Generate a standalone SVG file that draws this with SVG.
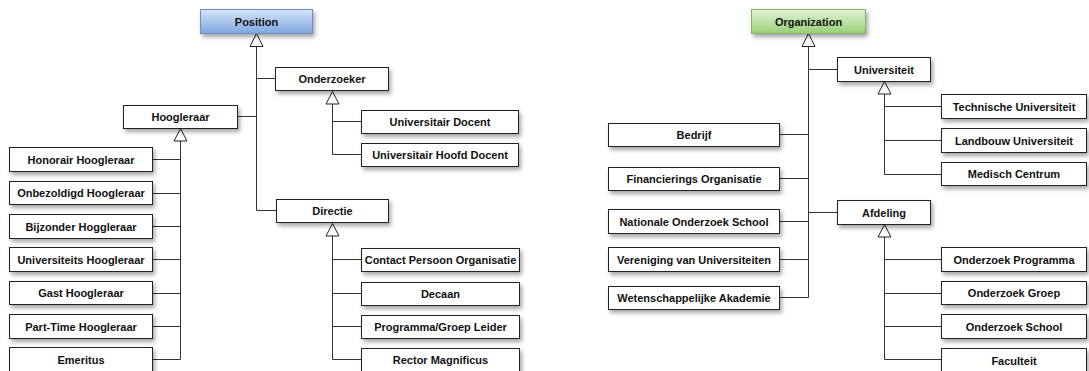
<svg xmlns="http://www.w3.org/2000/svg" width="1089" height="371" viewBox="0 0 1089 371">
<defs>
<filter id="sh" x="-10%" y="-30%" width="130%" height="180%">
<feDropShadow dx="2" dy="3" stdDeviation="2" flood-color="#000" flood-opacity="0.35"/>
</filter>
<linearGradient id="gBlue" x1="0" y1="0" x2="0" y2="1">
<stop offset="0" stop-color="#d6e4f8"/>
<stop offset="1" stop-color="#7ea6e0"/>
</linearGradient>
<linearGradient id="gGreen" x1="0" y1="0" x2="0" y2="1">
<stop offset="0" stop-color="#e2f3d8"/>
<stop offset="1" stop-color="#97d077"/>
</linearGradient>
</defs>
<style>
.b{fill:#fff;stroke:#222;stroke-width:1;filter:url(#sh)}
.t{font-family:"Liberation Sans",Arial,sans-serif;font-weight:bold;font-size:11px;fill:#111;text-anchor:middle}
.c{fill:none;stroke:#333;stroke-width:1}
.a{fill:#fff;stroke:#222;stroke-width:1}
</style>
<g id="connectors">
<path class="c" d="M256.5 46V210.5M256.5 78.5H275M238 116.5H256.5M256.5 210.5H276"/>
<path class="c" d="M180.5 141V359.5M153 159.5H180.5M153 193.5H180.5M153 226.5H180.5M153 259.5H180.5M153 293.5H180.5M153 326.5H180.5M153 359.5H180.5"/>
<path class="c" d="M332.5 104V154.5M332.5 121.5H361M332.5 154.5H361"/>
<path class="c" d="M332.5 236V359.5M332.5 259.5H361M332.5 293.5H361M332.5 326.5H361M332.5 359.5H361"/>
<path class="c" d="M808.5 46V297.5M808.5 69.5H837M808.5 212.5H837M780 134.5H808.5M780 178.5H808.5M780 221.5H808.5M780 259.5H808.5M780 297.5H808.5"/>
<path class="c" d="M884.5 94V174.5M884.5 106.5H941M884.5 140.5H941M884.5 174.5H941"/>
<path class="c" d="M884.5 237V359.5M884.5 259.5H941M884.5 293.5H941M884.5 326.5H941M884.5 359.5H941"/>
<path class="a" d="M256.5 33.5L250 46.5H263Z"/>
<path class="a" d="M180.5 128.5L174 141H187Z"/>
<path class="a" d="M332.5 91.5L326 104H339Z"/>
<path class="a" d="M332.5 223.5L326 236H339Z"/>
<path class="a" d="M808.5 33.5L802 46.5H815Z"/>
<path class="a" d="M884.5 81.5L878 94H891Z"/>
<path class="a" d="M884.5 224.5L878 237H891Z"/>
</g>
<g id="position"><rect x="200.5" y="9.5" width="112" height="24" fill="url(#gBlue)" stroke="#6c8ebf" filter="url(#sh)"/><text class="t" x="256.5" y="25.5">Position</text></g>
<g id="onderzoeker"><rect class="b" x="275.5" y="67.5" width="113" height="23"/><text class="t" x="332" y="83">Onderzoeker</text></g>
<g id="hoogleraar"><rect class="b" x="123.5" y="105.5" width="114" height="23"/><text class="t" x="180.5" y="121">Hoogleraar</text></g>
<g id="univ-docent"><rect class="b" x="361.5" y="110.5" width="157" height="23"/><text class="t" x="440" y="126">Universitair Docent</text></g>
<g id="univ-hoofd-docent"><rect class="b" x="361.5" y="143.5" width="157" height="23"/><text class="t" x="440" y="159">Universitair Hoofd Docent</text></g>
<g id="directie"><rect class="b" x="276.5" y="199.5" width="112" height="23"/><text class="t" x="332.5" y="215">Directie</text></g>
<g id="contact"><rect class="b" x="361.5" y="248.5" width="158" height="23"/><text class="t" x="440.5" y="264">Contact Persoon Organisatie</text></g>
<g id="decaan"><rect class="b" x="361.5" y="282.5" width="158" height="23"/><text class="t" x="440.5" y="298">Decaan</text></g>
<g id="programma-leider"><rect class="b" x="361.5" y="315.5" width="158" height="23"/><text class="t" x="440.5" y="331">Programma/Groep Leider</text></g>
<g id="rector"><rect class="b" x="361.5" y="348.5" width="158" height="23"/><text class="t" x="440.5" y="364">Rector Magnificus</text></g>
<g id="honorair"><rect class="b" x="9.5" y="147.5" width="143" height="24"/><text class="t" x="81" y="163.5">Honorair Hoogleraar</text></g>
<g id="onbezoldigd"><rect class="b" x="9.5" y="181.5" width="143" height="23"/><text class="t" x="81" y="197">Onbezoldigd Hoogleraar</text></g>
<g id="bijzonder"><rect class="b" x="9.5" y="214.5" width="143" height="24"/><text class="t" x="81" y="230.5">Bijzonder Hoggleraar</text></g>
<g id="universiteits"><rect class="b" x="9.5" y="247.5" width="143" height="24"/><text class="t" x="81" y="263.5">Universiteits Hoogleraar</text></g>
<g id="gast"><rect class="b" x="9.5" y="281.5" width="143" height="23"/><text class="t" x="81" y="297">Gast Hoogleraar</text></g>
<g id="parttime"><rect class="b" x="9.5" y="314.5" width="143" height="24"/><text class="t" x="81" y="330.5">Part-Time Hoogleraar</text></g>
<g id="emeritus"><rect class="b" x="9.5" y="347.5" width="143" height="24"/><text class="t" x="81" y="363.5">Emeritus</text></g>
<g id="organization"><rect x="751.5" y="9.5" width="114" height="24" fill="url(#gGreen)" stroke="#82b366" filter="url(#sh)"/><text class="t" x="808.5" y="25.5">Organization</text></g>
<g id="universiteit"><rect class="b" x="837.5" y="57.5" width="93" height="24"/><text class="t" x="884" y="73.5">Universiteit</text></g>
<g id="afdeling"><rect class="b" x="837.5" y="200.5" width="93" height="24"/><text class="t" x="884" y="216.5">Afdeling</text></g>
<g id="bedrijf"><rect class="b" x="608.5" y="123.5" width="171" height="23"/><text class="t" x="694" y="139">Bedrijf</text></g>
<g id="financierings"><rect class="b" x="608.5" y="167.5" width="171" height="23"/><text class="t" x="694" y="183">Financierings Organisatie</text></g>
<g id="nationale"><rect class="b" x="608.5" y="209.5" width="171" height="24"/><text class="t" x="694" y="225.5">Nationale Onderzoek School</text></g>
<g id="vereniging"><rect class="b" x="608.5" y="247.5" width="171" height="24"/><text class="t" x="694" y="263.5">Vereniging van Universiteiten</text></g>
<g id="wetenschappelijke"><rect class="b" x="608.5" y="286.5" width="171" height="23"/><text class="t" x="694" y="302">Wetenschappelijke Akademie</text></g>
<g id="technische"><rect class="b" x="941.5" y="94.5" width="145" height="24"/><text class="t" x="1014" y="110.5">Technische Universiteit</text></g>
<g id="landbouw"><rect class="b" x="941.5" y="128.5" width="145" height="24"/><text class="t" x="1014" y="144.5">Landbouw Universiteit</text></g>
<g id="medisch"><rect class="b" x="941.5" y="162.5" width="145" height="23"/><text class="t" x="1014" y="178">Medisch Centrum</text></g>
<g id="onderzoek-programma"><rect class="b" x="941.5" y="247.5" width="145" height="24"/><text class="t" x="1014" y="263.5">Onderzoek Programma</text></g>
<g id="onderzoek-groep"><rect class="b" x="941.5" y="281.5" width="145" height="23"/><text class="t" x="1014" y="297">Onderzoek Groep</text></g>
<g id="onderzoek-school"><rect class="b" x="941.5" y="314.5" width="145" height="24"/><text class="t" x="1014" y="330.5">Onderzoek School</text></g>
<g id="faculteit"><rect class="b" x="941.5" y="348.5" width="145" height="24"/><text class="t" x="1014" y="364.5">Faculteit</text></g>
</svg>
